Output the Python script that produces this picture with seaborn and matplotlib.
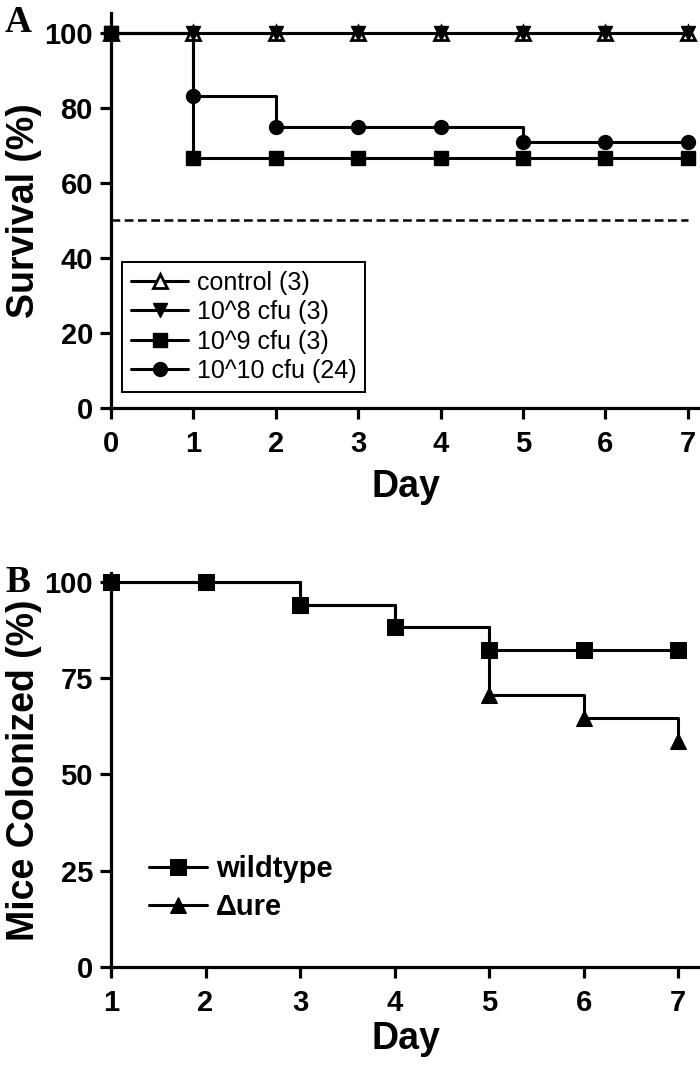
"""Survival and colonization curves (panels A and B)."""
import numpy as np
import pandas as pd
import matplotlib
matplotlib.use("Agg")
import matplotlib.pyplot as plt
import seaborn as sns

# Panel A: survival (%) per day, by dose
days_a = [0, 1, 2, 3, 4, 5, 6, 7]
control = [100, 100, 100, 100, 100, 100, 100, 100]
dose_1e8 = [100, 100, 100, 100, 100, 100, 100, 100]
dose_1e9 = [100, 66.7, 66.7, 66.7, 66.7, 66.7, 66.7, 66.7]
dose_1e10 = [100, 83.3, 75, 75, 75, 70.8, 70.8, 70.8]
labels_a = ["control (3)", "10^8 cfu (3)", "10^9 cfu (3)", "10^10 cfu (24)"]
median_line = 50

# Panel B: mice colonized (%) per day
days_b = [1, 2, 3, 4, 5, 6, 7]
wildtype = [100, 100, 94.1, 88.2, 82.4, 82.4, 82.4]
delta_ure = [100, 100, 94.1, 88.2, 70.6, 64.7, 58.8]
labels_b = ["wildtype", "\u0394ure"]

sns.set_style("ticks")
plt.rcParams["font.family"] = ["Liberation Sans", "DejaVu Sans"]
plt.rcParams.update({
    "axes.linewidth": 2.3,
    "axes.edgecolor": "black",
    "axes.labelcolor": "black",
    "text.color": "black",
    "xtick.color": "black",
    "ytick.color": "black",
})

LW = 2.2
TICK_FS = 21
LABEL_FS = 27


def style_axis(ax):
    sns.despine(ax=ax)
    ax.tick_params(direction="out", length=8, width=2.3, labelsize=TICK_FS, pad=5)
    ax.tick_params(axis="x", pad=8)
    for lab in ax.get_xticklabels() + ax.get_yticklabels():
        lab.set_fontweight("bold")
    for line in ax.lines:
        line.set_clip_on(False)


fig = plt.figure(figsize=(7, 10.69), dpi=100)
W, H = 700, 1069
axA = fig.add_axes([111 / W, (H - 408) / H, 589 / W, 395 / H])
axB = fig.add_axes([111 / W, (H - 967) / H, 589 / W, 394 / H])

# ---- Panel A
series_a = [
    (control, "^", "white"),
    (dose_1e8, "v", "black"),
    (dose_1e9, "s", "black"),
    (dose_1e10, "o", "black"),
]
for (vals, mk, face), lab in zip(series_a, labels_a):
    df = pd.DataFrame({"Day": days_a, "Survival": vals})
    sns.lineplot(data=df, x="Day", y="Survival", ax=axA, color="black",
                 drawstyle="steps-post", marker=mk, markersize=10,
                 markerfacecolor=face, markeredgecolor="black",
                 markeredgewidth=2 if face == "white" else 1,
                 linewidth=LW, label=lab, legend=False)
axA.plot([days_a[0], days_a[-1]], [median_line, median_line], color="black",
         linestyle=(0, (3.5, 1.8)), linewidth=1.8)
axA.set_xlim(0, 7.15)
axA.set_ylim(0, 105.3)
axA.set_xticks(days_a)
axA.set_yticks([0, 20, 40, 60, 80, 100])
axA.set_xlabel("Day", fontsize=LABEL_FS, fontweight="bold", labelpad=8)
axA.set_ylabel("Survival (%)", fontsize=LABEL_FS, fontweight="bold", labelpad=2)
style_axis(axA)
handles, _ = axA.get_legend_handles_labels()
legA = axA.legend(handles[:4], labels_a, loc="upper left",
                  bbox_to_anchor=(0.0187, 0.37), borderaxespad=0,
                  frameon=True, fancybox=False, framealpha=1, edgecolor="black",
                  fontsize=18, handlelength=2.3, handletextpad=0.35,
                  labelspacing=0.22, borderpad=0.35)
legA.get_frame().set_linewidth(1.4)

# ---- Panel B
series_b = [(delta_ure, "^", labels_b[1]), (wildtype, "s", labels_b[0])]
for vals, mk, lab in series_b:
    df = pd.DataFrame({"Day": days_b, "Colonized": vals})
    sns.lineplot(data=df, x="Day", y="Colonized", ax=axB, color="black",
                 drawstyle="steps-post", marker=mk, markersize=11,
                 markeredgecolor="black", linewidth=LW, label=lab, legend=False)
axB.set_xlim(1, 7.23)
axB.set_ylim(0, 102.3)
axB.set_xticks(days_b)
axB.set_yticks([0, 25, 50, 75, 100])
axB.set_xlabel("Day", fontsize=LABEL_FS, fontweight="bold", labelpad=3)
axB.set_ylabel("Mice Colonized (%)", fontsize=LABEL_FS, fontweight="bold", labelpad=2)
style_axis(axB)
hb, lb = axB.get_legend_handles_labels()
order = [lb.index(l) for l in labels_b]
legB = axB.legend([hb[i] for i in order], labels_b, loc="upper left",
                  bbox_to_anchor=(0.0645, 0.285), borderaxespad=0, borderpad=0,
                  frameon=False, handlelength=2.0, handletextpad=0.3,
                  labelspacing=0.35, prop={"size": 21, "weight": "bold"})

# panel letters
for letter, y in [("A", 22), ("B", 583)]:
    fig.text(18 / W, 1 - y / H, letter, fontfamily="Liberation Serif",
             fontweight="bold", fontsize=27, ha="center", va="center")

fig.savefig("out.png", dpi=100)
